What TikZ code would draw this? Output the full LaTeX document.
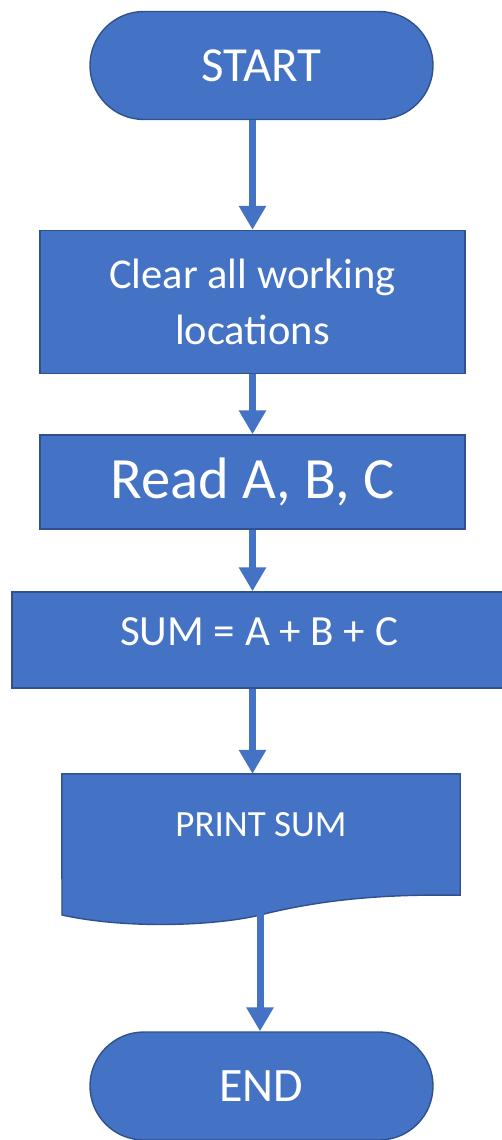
\documentclass[tikz,border=0pt]{standalone}
\usepackage{fontspec}
\setmainfont{Carlito}
\usetikzlibrary{arrows.meta}
\definecolor{boxfill}{HTML}{4472C4}
\definecolor{boxline}{HTML}{2F528F}
\tikzset{
  blk/.style={draw=boxline,fill=boxfill,line width=1.4pt,text=white,inner sep=0pt},
  term/.style={blk,minimum width=343pt,minimum height=108pt,rounded corners=53.9pt},
  proc/.style={blk,minimum width=425pt,minimum height=143pt},
  flow/.style={draw=boxfill,line width=7pt,-{Triangle[width=26pt,length=24pt]}}
}
\begin{document}
\begin{tikzpicture}[x=1pt,y=-1pt]
\useasboundingbox (0,0) rectangle (501,1140);
% boxes
\node[term,font=\fontsize{49}{52}\selectfont] (start) at (261.5,65.5) {START};
\node[proc,align=center,font=\fontsize{42.5}{56}\selectfont] (clear) at (252.5,302) {Clear all working\\locations};
\node[proc,minimum height=94pt,font=\fontsize{58.5}{62}\selectfont] (read) at (252.5,482) {Read A, B, C};
\node[blk,minimum width=491pt,minimum height=96pt] (sum) at (257.5,640) {};
\node[text=white,font=\fontsize{43}{46}\selectfont] (sumtxt) at (259,632) {SUM = A + B + C};
% document shape
\node[minimum width=398pt,minimum height=121pt,inner sep=0pt] (doc) at (261,834.5) {};
\draw[draw=boxline,fill=boxfill,line width=1.4pt] (doc.north west) -- (doc.north east) -- (doc.south east)
  .. controls (380,894) and (320,900) .. (260,915)
  .. controls (220,925) and (130,930) .. (62,915) -- cycle;
\node[text=white,font=\fontsize{37}{40}\selectfont] (doctxt) at (261,825) {PRINT SUM};
\coordinate (docout) at (260,912);
\node[term,font=\fontsize{48}{50}\selectfont] (end) at (261.5,1086) {END};
% arrows
\draw[flow] (start.south -| clear.north) -- (clear.north);
\draw[flow] (clear.south) -- (read.north);
\draw[flow] (read.south) -- (sum.north -| read.south);
\draw[flow] (sum.south -| read.south) -- (doc.north -| read.south);
\draw[flow] (docout) -- (end.north -| docout);
\end{tikzpicture}
\end{document}
